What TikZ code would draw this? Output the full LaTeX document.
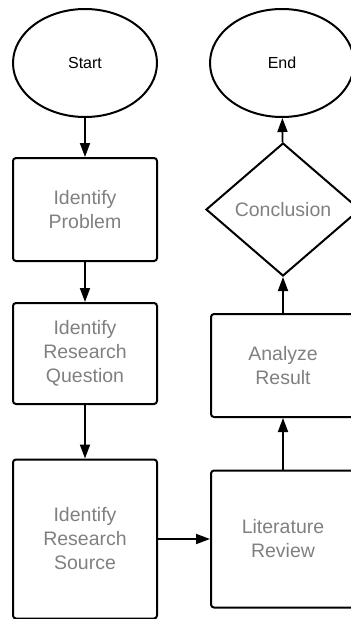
\documentclass[tikz,border=0pt]{standalone}
\usepackage{fontspec}
\setmainfont{Liberation Sans}
\usetikzlibrary{shapes.geometric,arrows.meta}

\tikzset{
	boite/.style={rectangle,draw,rounded corners=3pt,line width=2pt,minimum width=144pt,inner sep=0pt,align=center,text=black!50,font=\fontsize{19.5}{24}\selectfont},
	ovale/.style={ellipse,draw,line width=2pt,minimum width=144pt,minimum height=108pt,inner sep=0pt,font=\fontsize{16}{19}\selectfont},
	losange/.style={diamond,draw,line width=2pt,minimum width=154pt,minimum height=133pt,inner sep=0pt,text=black!50,font=\fontsize{19.5}{24}\selectfont},
	fleche/.style={line width=1.8pt,-{Triangle[length=14pt,width=10pt]}}
}

\begin{document}
\begin{tikzpicture}[x=1pt,y=-1pt]
		%cadre de l'image (la colonne de droite est coupee)
		\useasboundingbox (0,0) rectangle (351,619);
		\clip (0,0) rectangle (351,619);

		%colonne de gauche
		\node (node start) at(85,63) [ovale] {Start} ;
		\node (node problem) at(85,209.5) [boite,minimum height=103pt] {Identify\\Problem} ;
		\node (node question) at(85,353.5) [boite,minimum height=101pt] {Identify\\Research\\Question} ;
		\node (node source) at(85,539) [boite,minimum height=159pt] {Identify\\Research\\Source} ;

		%colonne de droite
		\node (node review) at(283,539) [boite,minimum height=137pt] {Literature\\Review} ;
		\node (node result) at(283,365.5) [boite,minimum height=103pt] {Analyze\\Result} ;
		\node (node conclusion) at(283,209.5) [losange] {Conclusion} ;
		\node (node end) at(282,63) [ovale] {End} ;

		%fleches
		\path
		(node start) edge[fleche] (node problem)
		(node problem) edge[fleche] (node question)
		(node question) edge[fleche] (node source)
		(node source) edge[fleche] (node review)
		(node review) edge[fleche] (node result)
		(node result) edge[fleche] (node conclusion)
		(node conclusion) edge[fleche] (node end)
		;
\end{tikzpicture}
\end{document}
